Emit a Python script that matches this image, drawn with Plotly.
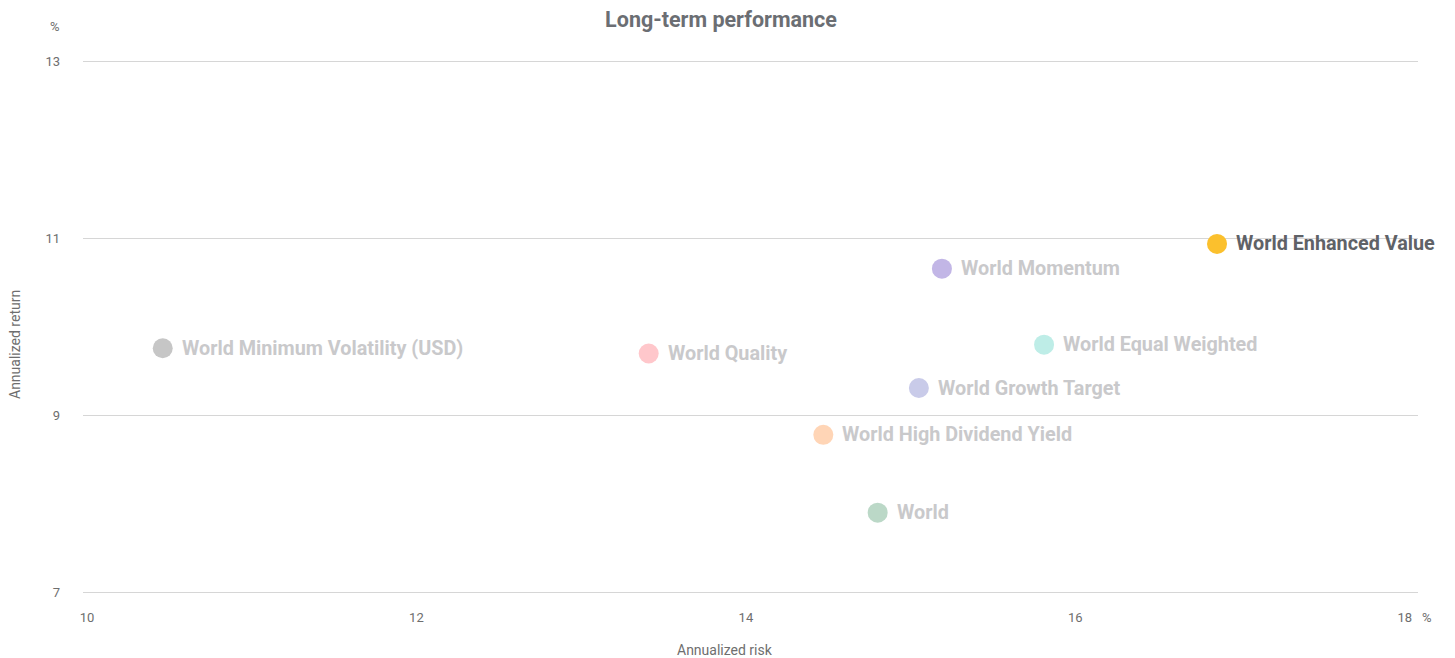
import plotly.graph_objects as go

names = ["World Enhanced Value", "World Momentum", "World Equal Weighted", "World Growth Target",
         "World High Dividend Yield", "World", "World Quality", "World Minimum Volatility (USD)"]
risk = [16.86, 15.19, 15.81, 15.05, 14.47, 14.80, 13.41, 10.46]
ret = [10.94, 10.66, 9.80, 9.31, 8.78, 7.90, 9.70, 9.76]
colors = ["#FBC02D", "#C2B6E6", "#BEEDE7", "#C9CBE9", "#FFD5B6", "#BBD8C7", "#FFC7CB", "#C6C6C6"]
label_colors = ["#5f6267", "#c9c9cb", "#c9c9cb", "#c9c9cb", "#c9c9cb", "#c9c9cb", "#c9c9cb", "#c9c9cb"]
x_ticks = [10, 12, 14, 16, 18]
y_ticks = [7, 9, 11, 13]

FONT = "Roboto"
W, H = 1455, 658
ML, MR, MT, MB = 83, 37, 60, 64
PW, PH = W - ML - MR, H - MT - MB

fig = go.Figure()
for n, x, y, c in zip(names, risk, ret, colors):
    fig.add_trace(go.Scatter(x=[x], y=[y], mode="markers", name=n,
                             marker=dict(size=20, color=c, line=dict(width=0)),
                             showlegend=False, hoverinfo="name"))

annotations = []
for n, x, y, lc in zip(names, risk, ret, label_colors):
    annotations.append(dict(x=x, y=y, xref="x", yref="y", text=n, showarrow=False,
                            xanchor="left", yanchor="middle", xshift=17,
                            font=dict(family=FONT, size=19.8, color=lc, weight="bold")))


def px_ann(text, px, py, size=13, angle=0):
    return dict(text=text, x=(px - ML) / PW, y=(H - MB - py) / PH, xref="paper", yref="paper",
                showarrow=False, xanchor="center", yanchor="middle", textangle=angle,
                font=dict(family=FONT, size=size, color="#6e6e6e"))


annotations += [
    px_ann("%", 55, 26, 13),
    px_ann("%", 1427, 617, 13),
    px_ann("Annualized risk", 725, 650, 14),
    px_ann("Annualized return", 15, 345, 14, -90),
]

fig.update_layout(
    width=W, height=H,
    margin=dict(l=ML, r=MR, t=MT, b=MB),
    paper_bgcolor="white", plot_bgcolor="white",
    font=dict(family=FONT, size=13, color="#6e6e6e"),
    title=dict(text="<b>Long-term performance</b>", x=721 / W, xanchor="center",
               y=1 - 19 / H, yanchor="middle", xref="container", yref="container",
               font=dict(family=FONT, size=21.5, color="#6b6e73")),
    xaxis=dict(range=[9.976, 18.08], tickvals=x_ticks, showgrid=False, zeroline=False,
               showline=False, ticks="", ticklabelstandoff=14,
               tickfont=dict(size=13, color="#6e6e6e")),
    yaxis=dict(range=[6.98, 13.02], tickvals=y_ticks, showgrid=True, gridcolor="#d6d6d6",
               gridwidth=1, zeroline=False, showline=False, ticks="", ticklabelstandoff=22,
               tickfont=dict(size=13, color="#6e6e6e")),
    annotations=annotations,
)
fig.write_html("out.html")
